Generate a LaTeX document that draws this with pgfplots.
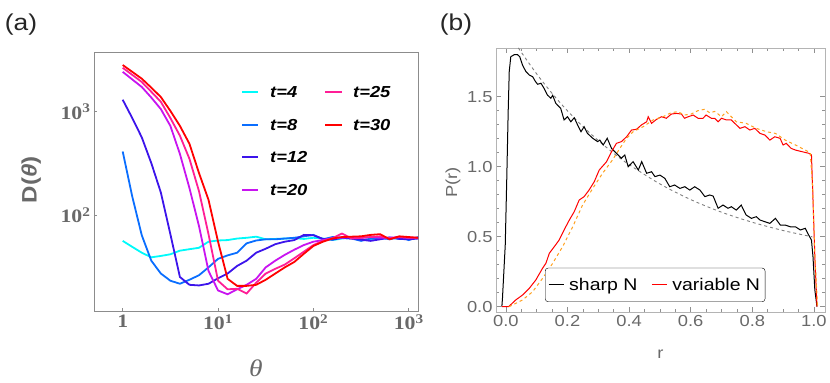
\documentclass[border=0pt]{standalone}
\usepackage{pgfplots}
\pgfplotsset{compat=1.18}
\usepackage{fontspec}
\setmainfont{Liberation Sans}[FakeStretch=1.15]
\newfontfamily\tnr{Liberation Serif}[FakeStretch=1.15]

\definecolor{cfour}{RGB}{0,250,250}
\definecolor{ceight}{RGB}{10,110,255}
\definecolor{ctwelve}{RGB}{60,20,235}
\definecolor{ctwenty}{RGB}{200,20,240}
\definecolor{ctwentyfive}{RGB}{255,30,150}
\definecolor{cthirty}{RGB}{255,0,0}
\definecolor{tickgray}{RGB}{105,105,105}
\definecolor{framegray}{RGB}{140,140,140}
\definecolor{lightframe}{RGB}{180,180,180}
\definecolor{dashorange}{RGB}{255,160,30}

\begin{document}
\begin{tikzpicture}
\useasboundingbox (0,0) rectangle (830bp,383bp);
\node[font=\fontsize{23}{23}\selectfont, text=black!85] at (21bp,358bp) {(a)};
\node[font=\fontsize{23}{23}\selectfont, text=black!85] at (456bp,358bp) {(b)};

% panel (a)
\begin{axis}[
    at={(94bp,72bp)}, anchor=south west,
    scale only axis, width=324bp, height=259bp,
    xmode=log, ymode=log,
    xmin=0.5, xmax=1250, ymin=11.7, ymax=3800,
    axis line style={framegray, line width=0.8bp},
    xtick={1,10,100,1000},
    xticklabels={1, 10\textsuperscript{1}, 10\textsuperscript{2}, 10\textsuperscript{3}},
    ytick={100,1000},
    yticklabels={10\textsuperscript{2}, 10\textsuperscript{3}},
    xminorticks=false, yminorticks=false,
    xtick pos=bottom, ytick pos=left,
    tick align=inside,
    major tick length=3.5bp,
    tick style={framegray, line width=0.8bp},
    tick label style={font=\tnr\bfseries\fontsize{19}{19}\selectfont, text=tickgray},
    xlabel={\tnr\itshape θ},
    xlabel style={at={(axis description cs:0.5,-0.22)}, anchor=center,
        font=\fontsize{24}{24}\selectfont, text=tickgray},
    ylabel={\textbf{D(\textit{θ})}},
    ylabel style={at={(axis description cs:-0.194,0.506)}, anchor=center,
        font=\fontsize{21}{21}\selectfont, text=tickgray},
    every axis plot/.append style={line width=1.8bp},
]
\addplot[cfour] coordinates {
(1,56) (1.259,49) (1.585,43) (1.995,38.8) (2.512,40) (3.162,41.5) (3.981,45)
(5.012,46.5) (6.31,48) (7.943,55) (10,56.5) (12.59,57) (15.85,59) (19.95,60)
(25.12,61.5) (31.62,58) (39.81,58.5) (50.12,59) (63.1,59.5) (79.43,58.5)
(100,60) (125.9,59) (158.5,57) (199.5,59) (251.2,60) (316.2,58) (398.1,57.5)
(501.2,59) (631,60) (794.3,58.5) (1000,59) (1259,60)};
\addplot[ceight] coordinates {
(1,412) (1.259,151) (1.585,63.5) (1.995,36) (2.512,27) (3.162,23) (3.981,21.5)
(5.012,23.5) (6.31,26) (7.943,31) (10,37.5) (12.59,40.5) (15.85,43) (19.95,53)
(25.12,56.5) (31.62,58) (39.81,58) (50.12,59) (63.1,60) (79.43,62) (100,64)
(125.9,58) (158.5,61) (199.5,60) (251.2,59) (316.2,56) (398.1,59) (501.2,60)
(631,58) (794.3,61) (1000,57) (1259,61)};
\addplot[ctwelve] coordinates {
(1,1308) (1.259,870) (1.585,565) (1.995,318) (2.512,165) (3.162,65) (3.981,25)
(5.012,21) (6.31,20.7) (7.943,21.5) (10,24.3) (12.59,27) (15.85,32) (19.95,36)
(25.12,43) (31.62,47) (39.81,52) (50.12,55) (63.1,57) (79.43,64) (100,63.5)
(125.9,58.5) (158.5,57.5) (199.5,60) (251.2,59) (316.2,57.5) (398.1,56)
(501.2,58) (631,60.5) (794.3,58.5) (1000,58) (1259,59)};
\addplot[ctwenty] coordinates {
(1,2440) (1.259,2060) (1.585,1740) (1.995,1374) (2.512,1062) (3.162,730)
(3.981,390) (5.012,182) (6.31,78) (7.943,28.6) (10,18.5) (12.59,17) (15.85,19)
(19.95,21) (25.12,24) (31.62,31) (39.81,36) (50.12,41) (63.1,46) (79.43,51)
(100,55) (125.9,57) (158.5,59.5) (199.5,60) (251.2,61) (316.2,60) (398.1,61)
(501.2,60) (631,60) (794.3,61) (1000,60) (1259,60)};
\addplot[ctwentyfive] coordinates {
(1,2670) (1.259,2280) (1.585,1945) (1.995,1563) (2.512,1250) (3.162,870)
(3.981,586) (5.012,350) (6.31,170) (7.943,65) (10,23) (12.59,19) (15.85,19.2)
(19.95,17.3) (25.12,22) (31.62,27) (39.81,30) (50.12,33) (63.1,38) (79.43,44)
(100,51) (125.9,56) (158.5,59.5) (199.5,66) (251.2,59) (316.2,60) (398.1,61)
(501.2,62) (631,59) (794.3,61) (1000,60) (1259,60)};
\addplot[cthirty] coordinates {
(1,2840) (1.259,2440) (1.585,2094) (1.995,1714) (2.512,1390) (3.162,1020)
(3.981,730) (5.012,489) (6.31,255) (7.943,140) (10,55) (12.59,24) (15.85,20.5)
(19.95,20.5) (25.12,21) (31.62,23.5) (39.81,27) (50.12,31) (63.1,35) (79.43,42)
(100,50) (125.9,55) (158.5,59) (199.5,61) (251.2,61.5) (316.2,62) (398.1,64)
(501.2,65) (631,58) (794.3,62) (1000,61) (1259,60)};
\end{axis}

% legend of panel (a), two columns
\begin{scope}[every node/.style={anchor=west, inner sep=0pt,
    font=\bfseries\itshape\fontsize{16}{16}\selectfont}]
\draw[cfour, line width=1.8bp] (242bp,291bp) -- (258bp,291bp);
\node at (270bp,291bp) {t=4};
\draw[ceight, line width=1.8bp] (242bp,258bp) -- (258bp,258bp);
\node at (270bp,258bp) {t=8};
\draw[ctwelve, line width=1.8bp] (242bp,226bp) -- (258bp,226bp);
\node at (270bp,226bp) {t=12};
\draw[ctwenty, line width=1.8bp] (242bp,193bp) -- (258bp,193bp);
\node at (270bp,193bp) {t=20};
\draw[ctwentyfive, line width=1.8bp] (325bp,291bp) -- (342bp,291bp);
\node at (353bp,291bp) {t=25};
\draw[cthirty, line width=1.8bp] (325bp,258bp) -- (342bp,258bp);
\node at (353bp,258bp) {t=30};
\end{scope}

% panel (b)
\begin{axis}[
    at={(496bp,71bp)}, anchor=south west,
    scale only axis, width=329bp, height=264bp,
    xmin=-0.032, xmax=1.036, ymin=-0.038, ymax=1.848,
    axis line style={lightframe, line width=0.8bp},
    xtick={0,0.2,0.4,0.6,0.8,1.0},
    ytick={0,0.5,1.0,1.5},
    minor x tick num=3, minor y tick num=4,
    tick align=inside,
    major tick length=5bp, minor tick length=3bp,
    tick style={lightframe!80!black, line width=0.6bp},
    /pgf/number format/assume math mode=true,
    xticklabel style={/pgf/number format/.cd, fixed, fixed zerofill, precision=1},
    yticklabel style={/pgf/number format/.cd, fixed, fixed zerofill, precision=1},
    tick label style={font=\fontsize{16}{16}\selectfont, text=tickgray},
    xlabel={r},
    xlabel style={at={(axis description cs:0.5,-0.159)}, anchor=center,
        font=\fontsize{16}{16}\selectfont, text=tickgray},
    ylabel={P(r)},
    ylabel style={at={(axis description cs:-0.131,0.49)}, anchor=center,
        font=\fontsize{16}{16}\selectfont, text=tickgray},
    legend columns=2,
    legend image code/.code={\draw[#1] (0bp,0bp) -- (15bp,0bp); \path (18bp,0bp);},
    legend style={at={(0.149,0.038)}, anchor=south west, draw=black, fill=white,
        rounded corners=3bp, font=\fontsize{17}{17}\selectfont,
        inner xsep=3bp, inner ysep=8bp,
        /tikz/every even column/.append style={column sep=12bp}},
]
\addplot[gray, dashed, line width=0.9bp, smooth, forget plot] coordinates {
(0.03,1.884) (0.05,1.818) (0.1,1.663) (0.15,1.524) (0.2,1.399) (0.25,1.287)
(0.3,1.187) (0.35,1.096) (0.4,1.015) (0.5,0.877) (0.6,0.765) (0.7,0.675)
(0.8,0.603) (0.9,0.544) (0.995,0.499)};
\addplot[black, line width=1bp] coordinates {
(-0.013,0) (-0.011,0.06) (-0.002,0.44) (0.003,0.92) (0.0075,1.39) (0.011,1.68)
(0.016,1.786) (0.027,1.80) (0.038,1.80) (0.045,1.786) (0.054,1.726) (0.065,1.68)
(0.076,1.655) (0.087,1.643) (0.095,1.612) (0.103,1.589) (0.114,1.596) (0.124,1.56)
(0.135,1.512) (0.146,1.489) (0.152,1.51) (0.162,1.453) (0.178,1.417) (0.189,1.334)
(0.2,1.357) (0.211,1.321) (0.222,1.35) (0.233,1.298) (0.244,1.25) (0.254,1.286)
(0.265,1.238) (0.282,1.203) (0.298,1.179) (0.305,1.19) (0.316,1.155) (0.329,1.203)
(0.343,1.131) (0.359,1.096) (0.375,1.06) (0.386,1.084) (0.397,1.0) (0.413,1.036)
(0.43,0.976) (0.441,1.036) (0.457,0.953) (0.473,0.964) (0.484,0.929) (0.5,0.94)
(0.516,0.917) (0.532,0.857) (0.548,0.869) (0.565,0.845) (0.581,0.857) (0.597,0.833)
(0.613,0.857) (0.63,0.833) (0.646,0.786) (0.662,0.798) (0.673,0.79) (0.689,0.703)
(0.705,0.726) (0.721,0.703) (0.732,0.714) (0.748,0.69) (0.764,0.726) (0.78,0.655)
(0.797,0.631) (0.813,0.643) (0.825,0.619) (0.841,0.607) (0.857,0.595) (0.875,0.631)
(0.891,0.583) (0.907,0.583) (0.923,0.571) (0.94,0.571) (0.956,0.548) (0.972,0.56)
(0.983,0.512) (0.992,0.476) (0.997,0.357) (1.003,0.119) (1.01,0)};
\addlegendentry{sharp N}
\addplot[red, line width=1bp] coordinates {
(-0.013,0) (0.009,0) (0.032,0.048) (0.054,0.083) (0.076,0.131) (0.097,0.19)
(0.119,0.274) (0.13,0.31) (0.141,0.381) (0.157,0.428) (0.173,0.476) (0.189,0.548)
(0.206,0.619) (0.222,0.679) (0.238,0.762) (0.254,0.786) (0.27,0.833) (0.287,0.893)
(0.303,0.976) (0.327,1.036) (0.343,1.107) (0.359,1.167) (0.375,1.179) (0.392,1.214)
(0.408,1.262) (0.424,1.267) (0.44,1.298) (0.457,1.321) (0.462,1.357) (0.473,1.31)
(0.489,1.338) (0.505,1.357) (0.521,1.346) (0.537,1.376) (0.554,1.381) (0.57,1.376)
(0.58,1.346) (0.592,1.357) (0.608,1.369) (0.624,1.346) (0.64,1.346) (0.65,1.369)
(0.667,1.346) (0.678,1.346) (0.689,1.321) (0.7,1.346) (0.716,1.334) (0.732,1.334)
(0.743,1.31) (0.76,1.274) (0.776,1.286) (0.792,1.262) (0.808,1.274) (0.825,1.238)
(0.841,1.226) (0.857,1.19) (0.873,1.214) (0.89,1.203) (0.9,1.155) (0.91,1.167)
(0.926,1.131) (0.94,1.119) (0.962,1.107) (0.983,1.096) (0.992,1.084) (0.996,0.833)
(1.003,0.357) (1.01,0)};
\addlegendentry{variable N}
\addplot[dashorange, dashed, line width=1bp, forget plot] coordinates {
(0.01,0) (0.022,0.012) (0.054,0.048) (0.087,0.107) (0.119,0.202) (0.152,0.31)
(0.184,0.428) (0.217,0.571) (0.249,0.726) (0.282,0.845) (0.314,0.953) (0.346,1.048)
(0.37,1.131) (0.392,1.203) (0.413,1.25) (0.446,1.286) (0.478,1.334) (0.51,1.357)
(0.537,1.386) (0.558,1.393) (0.58,1.369) (0.601,1.376) (0.623,1.4) (0.645,1.41)
(0.662,1.385) (0.678,1.395) (0.7,1.357) (0.716,1.393) (0.732,1.357) (0.748,1.321)
(0.78,1.31) (0.813,1.274) (0.846,1.25) (0.875,1.238) (0.891,1.214) (0.907,1.19)
(0.94,1.155) (0.972,1.119) (0.988,1.1) (0.996,0.85) (1.003,0.36) (1.012,0)};
\end{axis}
\end{tikzpicture}
\end{document}
